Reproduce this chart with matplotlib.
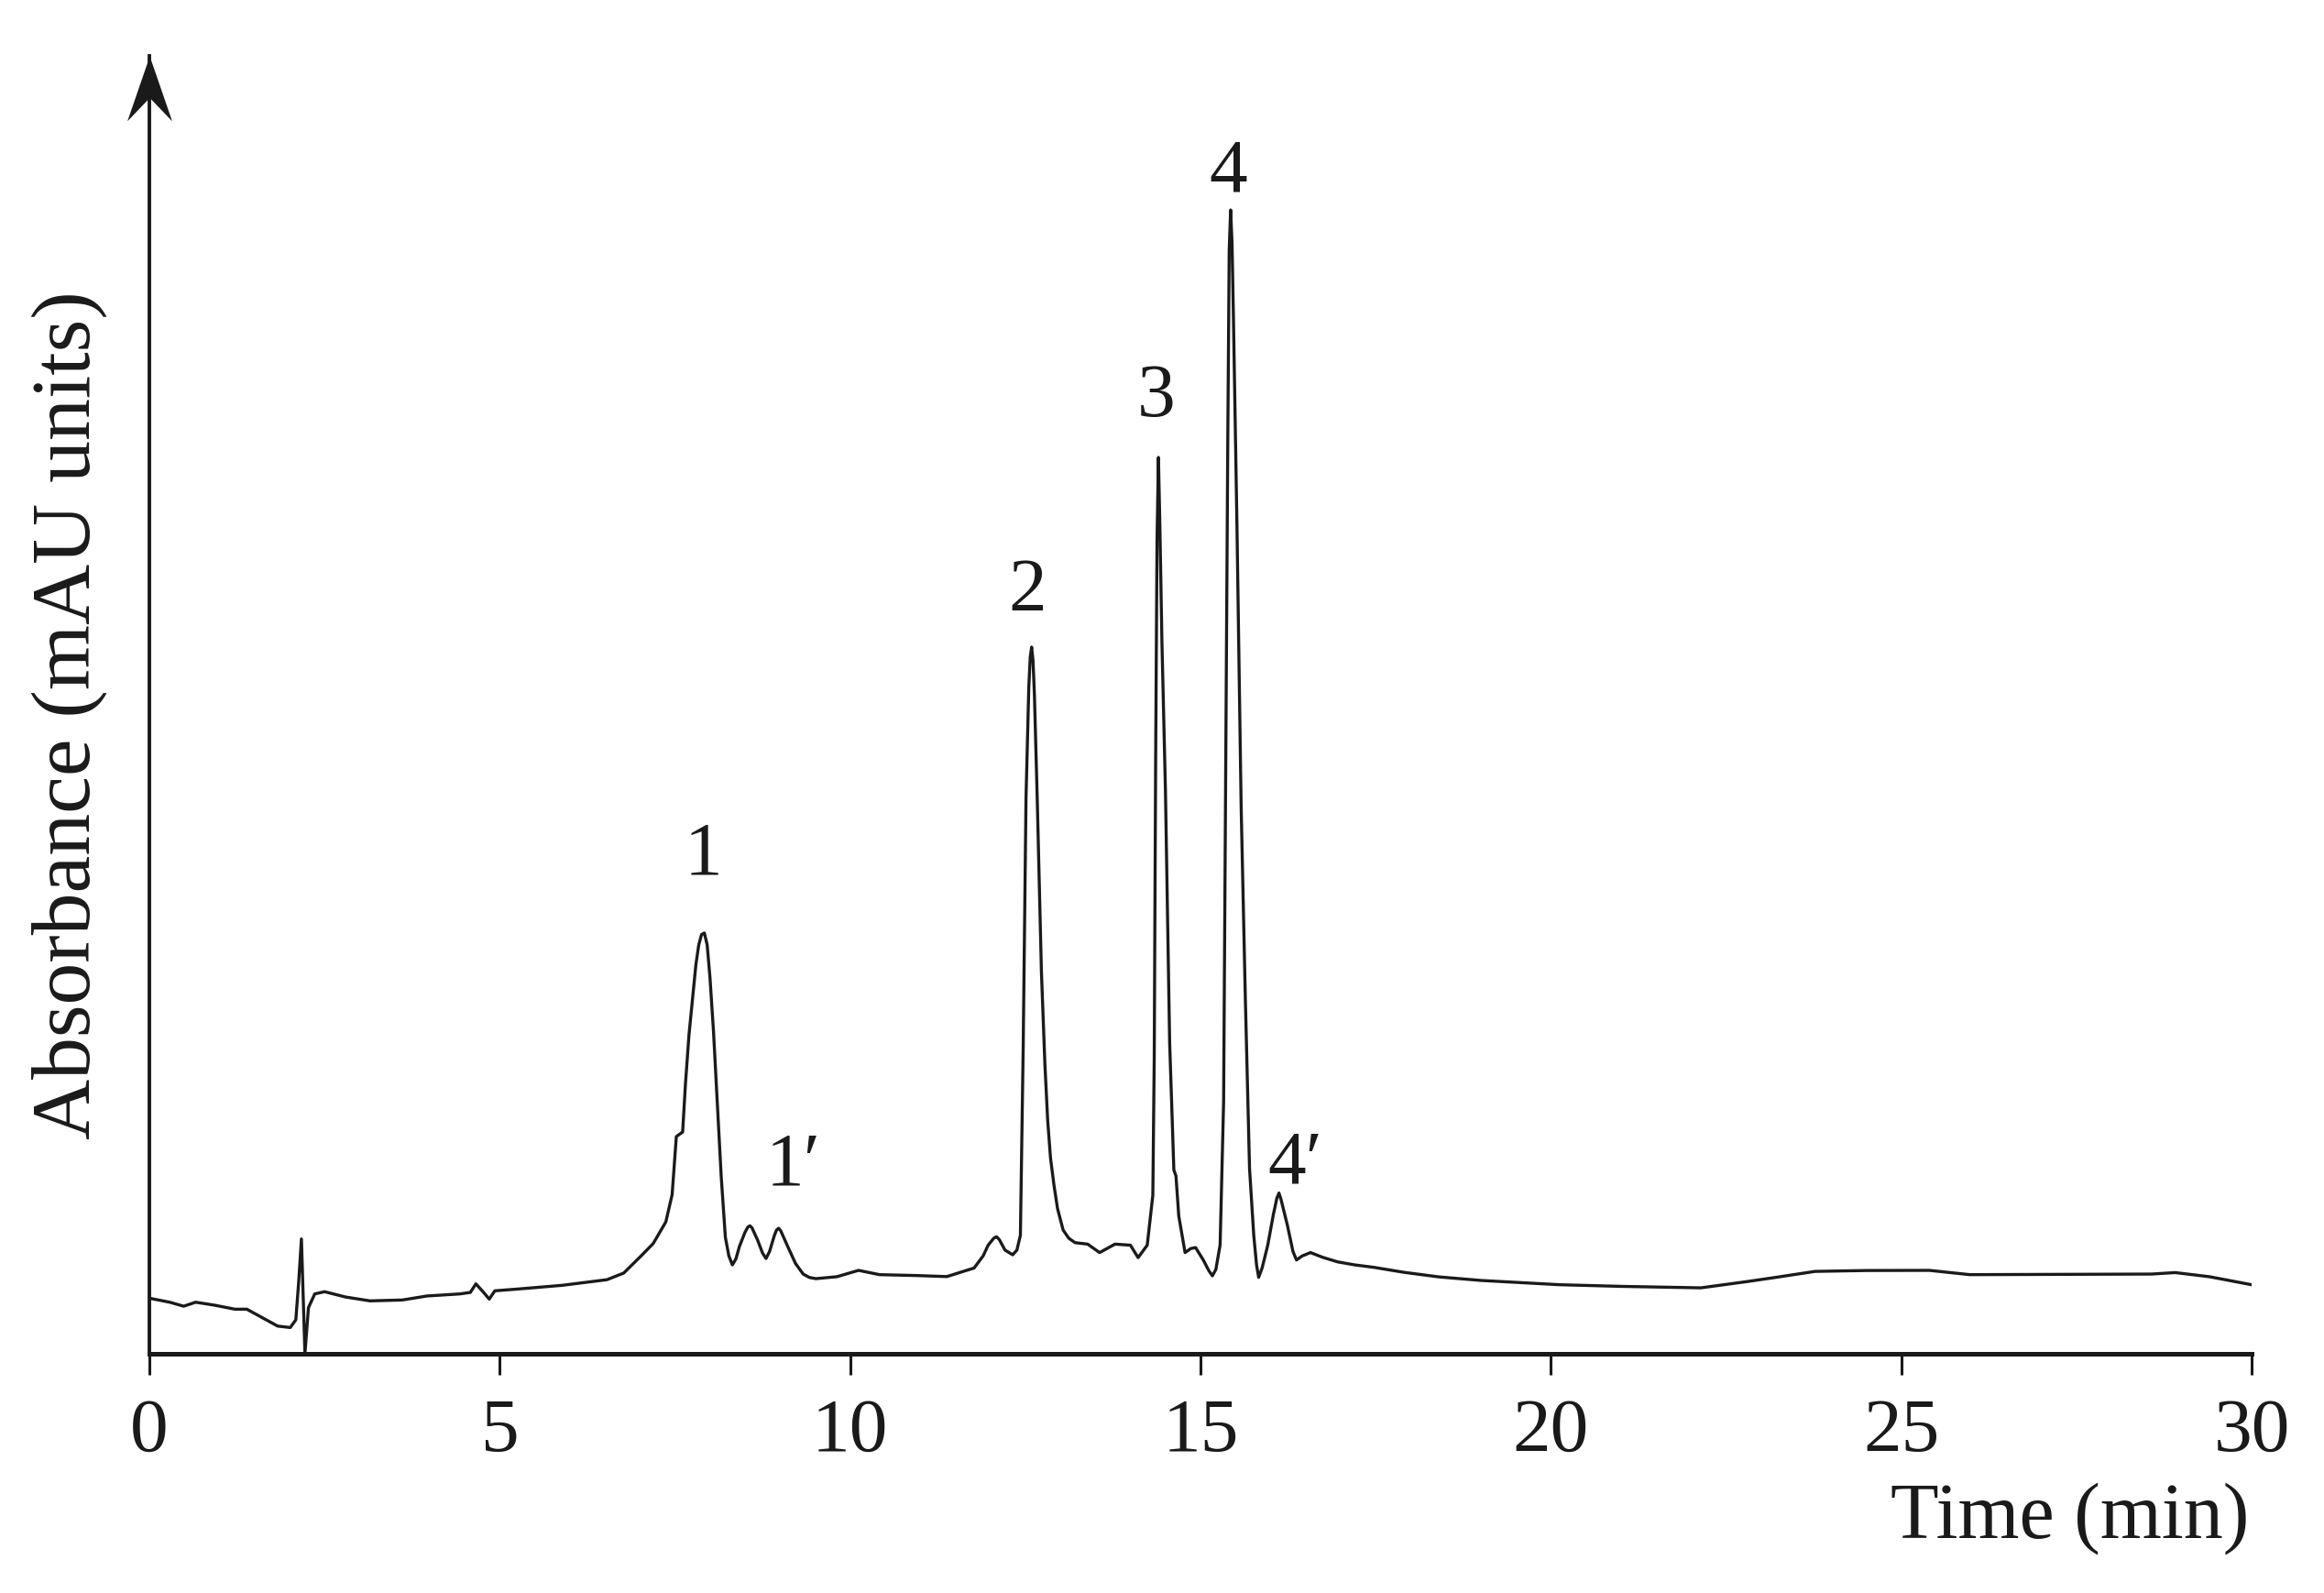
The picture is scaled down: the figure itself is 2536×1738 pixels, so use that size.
import matplotlib
matplotlib.use('Agg')
import matplotlib.pyplot as plt
from matplotlib.path import Path

plt.rcParams['font.family'] = ['Liberation Serif', 'DejaVu Serif']

# Chromatogram trace (time in min, absorbance in arbitrary mAU)
time_min = [0.00, 0.29, 0.49, 0.66, 0.93, 1.22, 1.39, 1.63, 1.83, 2.01,
            2.09, 2.13, 2.17, 2.22, 2.27, 2.36, 2.50, 2.80, 3.15, 3.61,
            3.96, 4.43, 4.58, 4.66, 4.77, 4.85, 4.93, 5.31, 5.89, 6.53,
            6.77, 7.02, 7.19, 7.37, 7.46, 7.52, 7.61, 7.65, 7.70, 7.76,
            7.80, 7.84, 7.88, 7.92, 7.96, 8.00, 8.05, 8.09, 8.16, 8.22,
            8.27, 8.32, 8.37, 8.42, 8.50, 8.54, 8.57, 8.60, 8.68, 8.75,
            8.80, 8.85, 8.92, 8.95, 8.98, 9.01, 9.11, 9.22, 9.33, 9.42,
            9.51, 9.81, 10.12, 10.42, 10.95, 11.38, 11.77, 11.90, 11.97, 12.05,
            12.09, 12.13, 12.21, 12.32, 12.38, 12.43, 12.47, 12.51, 12.55, 12.57,
            12.59, 12.61, 12.63, 12.67, 12.73, 12.78, 12.82, 12.86, 12.91, 12.96,
            13.04, 13.12, 13.21, 13.39, 13.56, 13.78, 14.00, 14.11, 14.24, 14.32,
            14.34, 14.36, 14.38, 14.40, 14.42, 14.45, 14.50, 14.56, 14.62, 14.65,
            14.69, 14.78, 14.86, 14.93, 15.04, 15.12, 15.17, 15.22, 15.28, 15.33,
            15.36, 15.39, 15.41, 15.43, 15.45, 15.47, 15.52, 15.58, 15.64, 15.70,
            15.76, 15.80, 15.83, 15.88, 15.96, 16.04, 16.09, 16.12, 16.15, 16.24,
            16.32, 16.37, 16.45, 16.57, 16.75, 16.96, 17.20, 17.48, 17.90, 18.40,
            19.00, 20.13, 21.00, 22.14, 22.81, 23.20, 23.77, 24.50, 25.40, 25.98,
            28.57, 28.91, 29.40, 30.00]
absorbance = [3.75, 3.48, 3.21, 3.48, 3.28, 3.01, 3.01, 2.39, 1.87, 1.77,
              2.29, 4.8, 7.75, 0.0, 3.11, 4.04, 4.19, 3.83, 3.57, 3.63,
              3.90, 4.04, 4.14, 4.72, 4.14, 3.69, 4.25, 4.39, 4.62, 5.00,
              5.45, 6.62, 7.44, 8.90, 10.74, 14.66, 14.97, 18.2, 21.5, 24.4,
              26.3, 27.6, 28.3, 28.4, 27.6, 25.4, 21.8, 18.2, 12.0, 7.85,
              6.60, 6.00, 6.40, 7.24, 8.20, 8.55, 8.64, 8.50, 7.67, 6.80,
              6.43, 6.90, 8.00, 8.35, 8.47, 8.30, 7.24, 6.10, 5.38, 5.15,
              5.07, 5.20, 5.63, 5.34, 5.28, 5.21, 5.79, 6.62, 7.33, 7.80,
              7.90, 7.70, 7.00, 6.68, 7.00, 8.00, 20.7, 37.5, 45.0, 47.0,
              47.7, 46.8, 44.5, 37.5, 25.8, 19.5, 15.7, 13.2, 11.35, 9.8,
              8.35, 7.80, 7.50, 7.40, 6.83, 7.40, 7.33, 6.49, 7.33, 10.7,
              20.0, 40.0, 55.0, 60.5, 56.0, 48.0, 38.0, 21.0, 12.4, 12.0,
              9.3, 6.83, 7.10, 7.17, 6.33, 5.60, 5.26, 5.70, 7.35, 17.0,
              40.0, 62.0, 74.5, 77.2, 75.0, 70.0, 56.0, 37.0, 24.0, 12.5,
              8.0, 6.00, 5.16, 5.80, 7.33, 9.40, 10.50, 10.85, 10.40, 8.68,
              6.90, 6.33, 6.60, 6.83, 6.50, 6.20, 6.00, 5.83, 5.50, 5.19,
              4.95, 4.66, 4.55, 4.45, 4.88, 5.15, 5.56, 5.62, 5.63, 5.34,
              5.38, 5.48, 5.20, 4.66]

# Peak labels and where they sit (time, absorbance of baseline)
peak_labels = ['1', '1\u2032', '2', '3', '4', '4\u2032']
peak_label_t = [7.90, 9.19, 12.53, 14.37, 15.40, 16.35]
peak_label_y = [32.4, 11.44, 50.15, 63.3, 78.5, 11.56]

x_ticks = [0, 5, 10, 15, 20, 25, 30]
y_top = 87.6

fig = plt.figure(figsize=(12.68, 8.69), dpi=200)
ax = fig.add_axes([163 / 2536, 261 / 1738, 2294 / 2536, 1416 / 1738])

ax.plot(time_min, absorbance, color='#1a1a1a', lw=1.2, solid_joinstyle='round')

ax.set_xlim(0, 30)
ax.set_ylim(0, y_top)
ax.spines['top'].set_visible(False)
ax.spines['right'].set_visible(False)
ax.spines['bottom'].set_linewidth(1.8)
ax.spines['left'].set_linewidth(1.4)
ax.spines['bottom'].set_color('#1a1a1a')
ax.spines['left'].set_color('#1a1a1a')

ax.set_xticks(x_ticks)
ax.set_yticks([])
ax.tick_params(axis='x', direction='out', length=8.3, width=1.1, pad=9,
               labelsize=30, colors='#1a1a1a')

# arrow head on top of the y axis
arrow = Path([(0, 0), (-0.345, -1), (0, -0.64), (0.345, -1), (0, 0)],
             [Path.MOVETO, Path.LINETO, Path.LINETO, Path.LINETO, Path.CLOSEPOLY])
ax.plot([0], [y_top], marker=arrow, markersize=51, color='#1a1a1a',
        markeredgewidth=0, clip_on=False)

for lab, t, y in zip(peak_labels, peak_label_t, peak_label_y):
    ax.text(t, y, lab, ha='center', va='baseline', fontsize=30, color='#1a1a1a')

fig.text(2454 / 2536, 61 / 1738, 'Time (min)', ha='right', va='baseline',
         fontsize=31, color='#1a1a1a')
fig.text(98 / 2536, 958 / 1738, 'Absorbance (mAU units)', rotation=90,
         rotation_mode='anchor', ha='center', va='baseline', fontsize=33,
         color='#1a1a1a')

fig.savefig('out.png', dpi=200, facecolor='white')
